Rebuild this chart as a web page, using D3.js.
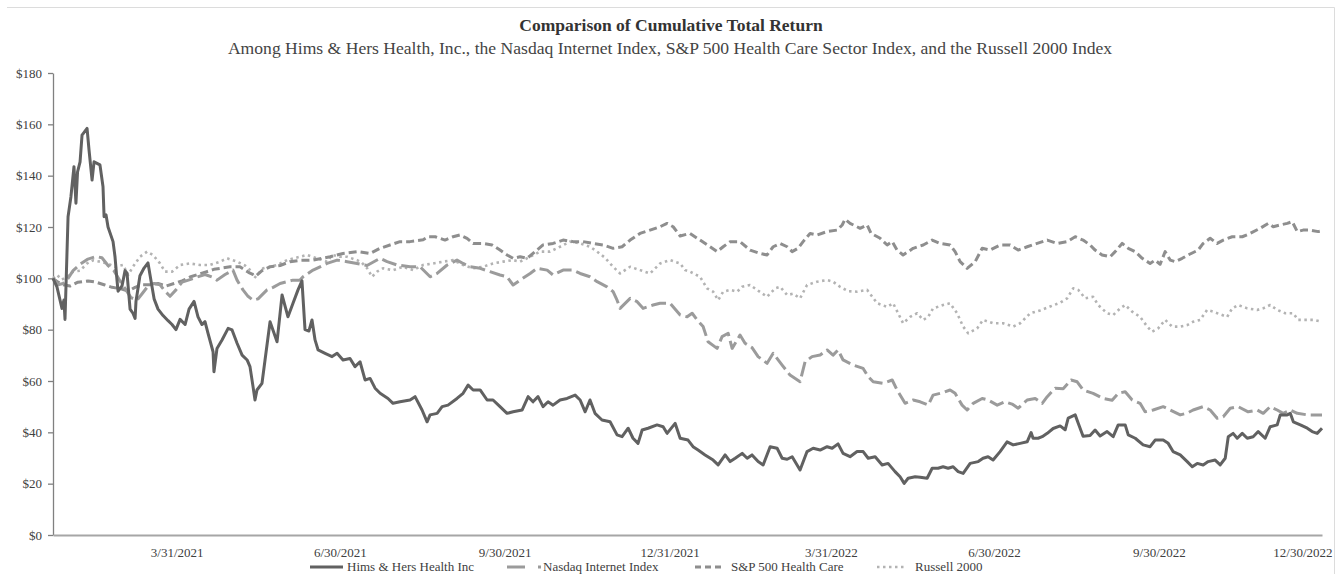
<!DOCTYPE html>
<html>
<head>
<meta charset="utf-8">
<script src="https://cdn.jsdelivr.net/npm/d3@7"></script>
<style>
  body { margin: 0; background: #fff; }
  svg { display: block; font-family: "Liberation Serif", "Times New Roman", serif; }
</style>
</head>
<body>
<svg id="chart" width="1341" height="574"></svg>
<script>
// values: [days since 1/21/2021, value of $100 invested]
const startDate = "2021-01-21";
const endDate = "2022-12-30";

const xTickDates = ["2021-03-31", "2021-06-30", "2021-09-30", "2021-12-31",
  "2022-03-31", "2022-06-30", "2022-09-30", "2022-12-30"];
const yTicks = [0, 20, 40, 60, 80, 100, 120, 140, 160, 180];

const hims = [[0,100],[2.2,96.7],[5,88.3],[6.1,91.5],[6.7,84],[8.4,124],[10,131.8],[11.7,143.5],[12.8,129.3],[13.7,141.5],[15.1,145.4],[16.2,155.8],[19,158.4],[20.1,150],[21.8,138.3],[22.9,145.4],[26.2,144.2],[27.9,135.7],[28.5,124],[29.6,124.7],[30.7,120],[33.5,114.3],[34.6,108.4],[35.7,99.3],[36.3,95],[38.5,97],[40.2,103],[41.3,102],[43,88],[44.6,86.4],[45.8,84.4],[46.3,91],[48.5,101],[50.8,104],[53,106],[54.7,99],[56.4,92],[58.6,88],[61.4,85.5],[64.2,83.5],[66.4,82],[68.6,80],[70.9,84],[73.7,82],[75.9,88],[78.7,91],[80.9,85],[83.1,82],[84.8,83.1],[86.5,78.6],[89.3,71.4],[89.8,63.6],[91.5,72.7],[94.3,76],[97.7,80.5],[99.9,79.9],[102.7,74.7],[105.5,70.1],[108.3,68.2],[109.9,65.6],[111.6,57.8],[112.7,52.6],[113.8,56.5],[116.6,59.1],[118.3,68.2],[121.1,83.1],[125,75.3],[127.8,93.5],[131.1,85],[133.9,90.3],[136.7,95.5],[138.9,99],[140.6,80],[142.8,79.5],[144.5,83.8],[146.2,76],[147.9,72.1],[151.8,70.8],[155.7,69.5],[158.5,70.8],[161.8,68.2],[165.7,68.8],[168.5,65.6],[171.3,67.5],[174.1,60.4],[176.9,61],[179.7,57.2],[182.5,55.2],[186.9,53.2],[189.7,51.3],[193.6,51.9],[199.2,52.6],[202,53.9],[205.9,48.7],[208.7,44.1],[210.4,46.8],[214.3,47.4],[217.1,50],[220.4,50.6],[225.4,53.2],[228.8,55.2],[231.6,58.4],[234.4,56.5],[238.3,56.5],[242.2,52.6],[245.5,52.6],[249.4,50],[253.3,47.4],[256.7,48],[261.7,48.7],[265.1,53.9],[267.8,51.9],[270.6,53.9],[273.4,50],[276.2,51.9],[279,50.6],[282.9,52.6],[286.8,53.2],[291.3,54.5],[294.1,52.6],[296.9,48],[299.6,52.6],[302.4,47.4],[306.3,44.8],[310.8,44.1],[314.7,39],[317.5,38.3],[320.9,41.6],[323.6,37.7],[326.4,35.7],[328.7,40.9],[332,41.6],[337,42.9],[340.4,42.2],[342.6,39.6],[347.1,43.5],[349.9,37.7],[354.3,37],[357.1,34.4],[359.9,33.1],[363.8,31.2],[368.3,29.2],[371.1,27.3],[375,31.2],[377.8,28.6],[380.6,29.9],[384.5,31.8],[387.3,29.9],[390,31.2],[393.4,28.6],[396.2,27.3],[400.1,34.4],[404,33.8],[406.8,29.9],[409.6,29.5],[412.4,30.5],[416.8,25.3],[420.7,32.5],[424.1,33.8],[428,33.1],[431.9,34.4],[434.7,33.8],[438,35.5],[440.8,31.8],[444.7,30.5],[448.6,32.5],[452,32.5],[454.8,29.9],[458.7,30.5],[462.6,27.3],[465.9,27.9],[469.8,24.7],[472.6,22.7],[474.9,20.1],[477.1,22.1],[481,22.7],[483.8,22.5],[487.7,22.1],[490.5,26],[493.8,26],[496.6,26.6],[499.4,26],[502.2,26.6],[505,24.7],[507.8,24],[511.7,27.9],[516.2,28.6],[518.9,29.9],[521.7,30.5],[524.5,29.2],[528.4,32.5],[532.3,36.3],[535.7,35.1],[539.6,35.7],[543.5,36.3],[545.7,39.9],[546.8,37.7],[549.6,37.7],[551.9,38.3],[554.7,39.6],[558,41.5],[561.9,42.5],[564.7,41],[566.4,45.5],[570.3,46.8],[572,43.5],[574.7,38.5],[578.6,38.8],[581.4,40.9],[584.2,38.6],[588.1,40.3],[591.5,38.3],[594.3,42.9],[598.2,42.9],[599.9,39],[603.8,37.7],[608.2,35.1],[612.1,34.4],[614.9,37],[619.4,37],[622.2,35.7],[624.9,32.5],[628.9,31.2],[632.8,28.6],[635.6,26.6],[638.4,27.9],[641.7,27.3],[644.5,28.6],[648.4,29.2],[651.2,27.3],[654,29.9],[655.7,38.3],[658.4,39.6],[660.7,37.7],[663.5,39.6],[666.3,37.7],[669.6,38.3],[672.4,40.3],[676.3,37.7],[679.1,42.2],[683,42.9],[684.7,46.8],[688.6,46.8],[690.3,47.4],[692,44.1],[695.9,42.9],[699.8,41.6],[702.5,40.3],[705.3,39.6],[708,41.6]];

const nasdaqInternet = [[0,100],[2.8,97.5],[5.6,98],[8.4,100],[11.2,103],[15.1,105.5],[19.5,107.5],[24,108.5],[27.3,108],[30.7,105],[34,103],[37.4,99],[40.7,95.5],[43.5,92.5],[46.9,91.5],[49.7,94],[53,97],[56.4,98],[59.7,97.5],[62.5,95],[65.3,93],[68.6,95.5],[72,98.5],[76.4,99.5],[80.4,100.5],[84.8,101.5],[88.7,100.5],[91.5,99.3],[96,101.5],[100.4,103.2],[102.7,99.3],[106,95.5],[108.8,93],[111.6,91.5],[114.4,92],[119.4,95.5],[122.8,96.5],[126.7,98],[130.6,98.7],[133.9,99.3],[137.8,99.3],[139.5,100.6],[145.1,103.2],[152.9,105.8],[158.5,107.1],[164.1,106.5],[169.6,105.8],[175.2,105],[182.5,107.8],[186.4,106.5],[191.9,105.2],[199.2,104.5],[204.8,104.5],[210.4,100.6],[214.3,101.9],[219.9,105.2],[225.4,107.1],[228.8,105.8],[232.7,104.5],[238.3,103.9],[243.8,102.6],[249.4,101.3],[253.3,100.6],[256.7,97.4],[260.6,99.3],[266.2,101.9],[270.1,103.9],[275.7,103.2],[279,101.3],[284.6,103.2],[290.2,103.2],[294.1,101.9],[299.6,100.6],[303.6,98.7],[309.1,96.7],[312.5,94.8],[314.7,91.5],[316.4,88.3],[322,92.2],[325.9,90.9],[329.2,88.3],[334.8,89.6],[338.7,90.3],[344.3,90.3],[349.9,85.7],[353.8,85],[356.6,86.4],[359.4,83.8],[362.7,81.2],[365.5,75.3],[370.5,72.7],[373.3,77.3],[376.7,78.6],[378.9,72.7],[383.3,77.9],[386.1,74.7],[390,73],[393.4,69.5],[398.4,66.9],[401.8,70.8],[406.8,66.2],[411.2,62.3],[416.8,59.7],[419.6,67.5],[423.5,69.5],[428,70.1],[431.9,72.1],[435.2,70.1],[438,72.1],[440.8,68.2],[446.4,66.2],[452,64.9],[454.8,61.7],[457.6,59.7],[463.1,59.1],[468.2,60.4],[470.9,56.5],[475.4,51.3],[479.9,52.6],[483.8,51.9],[488.3,50.6],[491,54.5],[496.6,55.5],[500.5,56.5],[503.3,55.2],[507.2,50.6],[510,48.7],[513.4,51.3],[518.4,53.2],[521.7,52.6],[526.8,50.6],[531.2,51.9],[535.1,51],[538.5,49.4],[543.5,52.6],[548,53.2],[551.9,51.3],[554.7,53.9],[559.1,57.2],[563.6,57],[568,60.4],[571.4,59.7],[574.7,56.5],[580.3,55.2],[585.9,53.2],[590.9,52.5],[594.3,55.2],[598.2,55.8],[602.1,52.6],[606.5,51.3],[609.3,48],[613.8,48.7],[619.4,50],[623.3,48.7],[628.9,46.8],[632.8,47.5],[636.1,48.7],[641.7,50],[645.6,48.7],[649.5,45.5],[652.9,46.1],[656.8,49.4],[661.2,50],[666.8,48],[671.8,48.7],[675.2,47.4],[679.1,50],[683,48.7],[686.3,47.4],[690.3,48.7],[694.2,47.4],[699.8,46.8],[708,46.8]];

const spHealthCare = [[0,100],[2.8,98.5],[5.6,97.5],[9.5,97],[13.9,98.5],[19.5,99],[24,98.5],[28.5,97.5],[32.9,96.5],[37.4,96],[41.9,95],[45.8,96.5],[49.7,97.5],[54.1,97.5],[58.6,98],[63.1,97],[67.5,98],[72,99],[76.4,100.5],[80.9,101.5],[85.4,102.5],[89.8,103.5],[94.3,104],[98.8,104.5],[104.3,104.5],[109.9,102],[113.3,101],[116.6,103],[121.1,104.5],[126.7,105],[132.2,106.5],[137.8,107],[145.1,107.1],[154.6,108.4],[161.8,109.7],[170.2,110.4],[176.9,109.7],[182.5,111.7],[188,113],[193.6,114.3],[199.2,114.3],[206.5,115],[209.3,116.2],[213.2,116.2],[218.7,114.9],[223.2,116.2],[227.1,116.9],[231,115.6],[234.4,113.6],[239.9,113.6],[245,113],[249.4,111],[253.3,109.1],[256.7,107.8],[260.6,108.4],[264.5,107.8],[267.8,109.7],[273.4,113],[279,113.6],[284.6,114.9],[290.2,114.3],[295.7,114.3],[301.3,113.6],[306.9,113],[312.5,111.7],[317.5,112.3],[322,114.9],[327.5,117.5],[333.1,118.8],[338.7,120.1],[342.6,121.4],[346,120.1],[349.9,116.5],[355.4,117.5],[361,114.9],[366.6,112.3],[370.5,110.4],[373.9,112.3],[377.8,114.3],[383.3,114.3],[388.9,111],[394.5,109.7],[398.4,109.1],[401.8,112.3],[405.7,113.6],[409.6,112.3],[412.4,110.4],[415.7,111.7],[418.5,114.3],[422.4,117.5],[426.3,116.9],[431.9,118.2],[437.5,118.8],[440.3,120.8],[441.9,123],[444.7,121.4],[450.3,119.5],[454.2,120.8],[456.4,117.5],[461.5,115.6],[465.4,113],[468.2,114.3],[470.9,111],[474.3,109.1],[479.9,111.7],[485.5,113],[490.5,114.9],[494.9,113.6],[500.5,113],[503.3,110.4],[506.1,106.5],[510,103.9],[514.5,106.5],[518.4,111.7],[522.8,111],[528.4,113],[534,113],[538.5,111],[543.5,112.3],[549.1,113.6],[554.7,114.9],[560.2,113.6],[565.8,114.3],[570.3,116.2],[574.7,114.9],[578.6,113],[581.4,111],[585.3,109.1],[589.8,108.4],[592.6,110.4],[596.5,113.6],[599.9,111.7],[603.8,110.4],[607.7,107.8],[612.1,105.8],[614.9,107.1],[617.7,105.5],[620.5,110.4],[623.3,107.1],[626.1,106.5],[630,107.8],[633.3,109.1],[638.9,111],[641.7,113.6],[645.6,115.6],[649.5,113.6],[652.9,114.9],[657.9,116.2],[663.5,116.2],[667.9,117.5],[673.5,119.5],[678,121.4],[680.8,120.1],[684.7,120.8],[688.6,121.4],[691.4,122.1],[694.2,118.2],[697.5,118.8],[701.4,118.8],[705.9,118.2],[708,118.5]];

const russell2000 = [[0,100],[2.2,101.3],[5,99.5],[8.4,101],[11.2,102.6],[15.1,103],[19,105.8],[22.3,107],[26.2,106.5],[30.1,105.8],[34.6,104.5],[39.1,105.2],[41.9,101.3],[44.6,104.5],[48.5,108.4],[52.5,110.4],[55.8,109.1],[59.7,105.8],[62.5,102.6],[66.4,102.6],[70.9,105.2],[76.4,105.8],[82,105.2],[87.6,105.2],[93.2,106.5],[97.1,107.8],[102.7,106.5],[107.1,105],[111,102.6],[112.2,100],[117.2,103.9],[125,105.2],[130.6,107.1],[137.8,108.4],[141.7,109.1],[147.3,107.8],[152.9,106.5],[155.7,109.1],[160.1,108.4],[164.1,108.4],[169.6,107.1],[172.4,106],[175.2,104],[178,100.6],[180.8,102.6],[184.1,103.9],[189.7,103.2],[195.3,104.5],[200.9,103.2],[206.5,105.2],[212,105.8],[217.6,106.5],[223.2,107.1],[228.8,105.2],[234.4,103.9],[239.9,104.5],[245.5,105.8],[251.1,106.5],[256.7,107.1],[260.6,106.5],[266.2,108.4],[271.7,110.4],[277.3,110.4],[282.9,112.3],[288.5,114.3],[294.1,113.6],[299.6,112.3],[303.6,110.4],[308,108],[312.5,104.5],[316.4,101.9],[322,104.5],[327.5,103.2],[333.1,101.9],[338.7,105.8],[344.3,107.1],[349.9,105.8],[352.7,103.2],[355.4,102.6],[361,100.6],[364.9,96.1],[368.3,94.8],[371.1,91.5],[373.9,94.8],[377.8,95.5],[381.7,94.8],[384.5,96.7],[388.9,97.4],[392.8,95.5],[398.4,92.8],[402.9,96.1],[405.7,96.7],[409.6,93.5],[412.9,94],[416.8,92.2],[420.7,97.4],[426.3,98.7],[431.9,99.3],[435.2,98.7],[439.1,96.7],[443.6,95],[448.6,94.8],[454.2,95.5],[459.8,90.3],[465.4,88.9],[468.7,90.3],[474.3,82.5],[478.2,85],[482.1,86.4],[485.5,83.8],[488.3,85],[491,88.3],[496.6,89.6],[500.5,90.3],[504.4,86.4],[507.8,81.2],[510.6,78.6],[515.6,80.5],[518.9,83.8],[524.5,82.5],[530.1,82.5],[535.7,81.2],[539.6,82.5],[545.2,86.4],[550.7,87.5],[556.3,89],[561.9,90.5],[565.8,92.2],[569.2,96.1],[572,95.5],[575.9,92.2],[580.3,92.8],[583.1,89.6],[588.1,86.4],[591.5,85.7],[595.4,88.3],[598.2,89.6],[602.1,87],[606.5,85],[610.5,81.2],[613.2,79.2],[616.6,80.5],[620.5,83.8],[624.4,81.2],[628.9,81.2],[632.8,81.8],[636.1,83.1],[640,83.8],[643.9,87.7],[647.3,87],[652.3,85.7],[655.1,85],[657.9,88.3],[661.2,89.6],[666.3,88.3],[671.8,87.7],[675.2,88.3],[679.1,89.6],[683,87.7],[687.5,86.4],[691.9,86.4],[694.7,83.8],[699.8,83.8],[703.6,83.8],[708,83.1]];

const seriesNames = ["Hims & Hers Health Inc", "Nasdaq Internet Index", "S&P 500 Health Care", "Russell 2000"];

const svg = d3.select("#chart");
const W = 1341, H = 574;
const margin = { top: 73, right: 19, bottom: 39, left: 53 };

svg.append("rect").attr("width", W).attr("height", H).attr("fill", "#fff");

// faint frame of the original image
svg.append("path")
  .attr("d", `M7,7.5H1334.5V${H}`)
  .attr("fill", "none")
  .attr("stroke", "#dcdcdc")
  .attr("stroke-width", 1);

const parse = d3.utcParse("%Y-%m-%d");
const t0 = parse(startDate);
const toDate = (d) => new Date(t0.getTime() + d * 864e5);

const x = d3.scaleUtc()
  .domain([t0, parse(endDate)])
  .range([margin.left, W - margin.right]);

const y = d3.scaleLinear()
  .domain([0, 180])
  .range([H - margin.bottom, margin.top]);

// titles
svg.append("text")
  .attr("x", 671).attr("y", 31)
  .attr("text-anchor", "middle")
  .attr("font-size", 17.5).attr("font-weight", "bold")
  .attr("fill", "#333")
  .text("Comparison of Cumulative Total Return");

svg.append("text")
  .attr("x", 670).attr("y", 54)
  .attr("text-anchor", "middle")
  .attr("font-size", 17.6)
  .attr("fill", "#444")
  .text("Among Hims & Hers Health, Inc., the Nasdaq Internet Index, S&P 500 Health Care Sector Index, and the Russell 2000 Index");

// y axis
const yAxis = svg.append("g")
  .attr("transform", `translate(${margin.left},0)`)
  .call(d3.axisLeft(y).tickValues(yTicks).tickFormat((d) => "$" + d)
    .tickSize(5).tickSizeOuter(0).tickPadding(6));
yAxis.select(".domain").attr("stroke", "#808080").attr("stroke-width", 1.3);
yAxis.selectAll(".tick line").attr("stroke", "#808080").attr("stroke-width", 1.3);
yAxis.selectAll("text")
  .attr("font-family", "Liberation Serif, serif")
  .attr("font-size", 13).attr("fill", "#404040");

// x axis
const xAxis = svg.append("g")
  .attr("transform", `translate(0,${H - margin.bottom})`)
  .call(d3.axisBottom(x).tickValues(xTickDates.map(parse))
    .tickFormat(d3.utcFormat("%-m/%-d/%Y"))
    .tickSize(0).tickSizeOuter(0).tickPadding(13));
xAxis.select(".domain").attr("stroke", "#a6a6a6").attr("stroke-width", 2);
xAxis.selectAll("text")
  .attr("font-family", "Liberation Serif, serif")
  .attr("font-size", 13).attr("fill", "#404040");
// last label pulled inside the frame, like the source
xAxis.selectAll(".tick:last-of-type text").attr("text-anchor", "end").attr("dx", 10);

// lines
const line = d3.line()
  .x((d) => x(toDate(d[0])))
  .y((d) => y(d[1]));

const styles = [
  { data: russell2000, stroke: "#b3b3b3", width: 2.6, dash: "2.5,3.5" },
  { data: spHealthCare, stroke: "#8e8e8e", width: 3, dash: "8,4" },
  { data: nasdaqInternet, stroke: "#9b9b9b", width: 3, dash: "15,5" },
  { data: hims, stroke: "#616161", width: 3, dash: null },
];

svg.append("g").selectAll("path")
  .data(styles)
  .join("path")
  .attr("d", (s) => line(s.data))
  .attr("fill", "none")
  .attr("stroke", (s) => s.stroke)
  .attr("stroke-width", (s) => s.width)
  .attr("stroke-dasharray", (s) => s.dash)
  .attr("stroke-linejoin", "round");

// legend
const legendY = 567;
const legend = [
  { name: seriesNames[0], x1: 310, x2: 343, tx: 347, s: styles[3] },
  { name: seriesNames[1], x1: 507, x2: 541, tx: 543, s: { ...styles[2], dash: "18,13" } },
  { name: seriesNames[2], x1: 695, x2: 722, tx: 731, s: { ...styles[1], dash: "6,4" } },
  { name: seriesNames[3], x1: 877, x2: 907, tx: 915, s: styles[0] },
];

const lg = svg.append("g").selectAll("g").data(legend).join("g");
lg.append("line")
  .attr("x1", (d) => d.x1).attr("x2", (d) => d.x2)
  .attr("y1", legendY).attr("y2", legendY)
  .attr("stroke", (d) => d.s.stroke)
  .attr("stroke-width", (d) => d.s.width)
  .attr("stroke-dasharray", (d) => d.s.dash);
lg.append("text")
  .attr("x", (d) => d.tx).attr("y", 570.5)
  .attr("font-size", 13).attr("fill", "#404040")
  .text((d) => d.name);
</script>
</body>
</html>
